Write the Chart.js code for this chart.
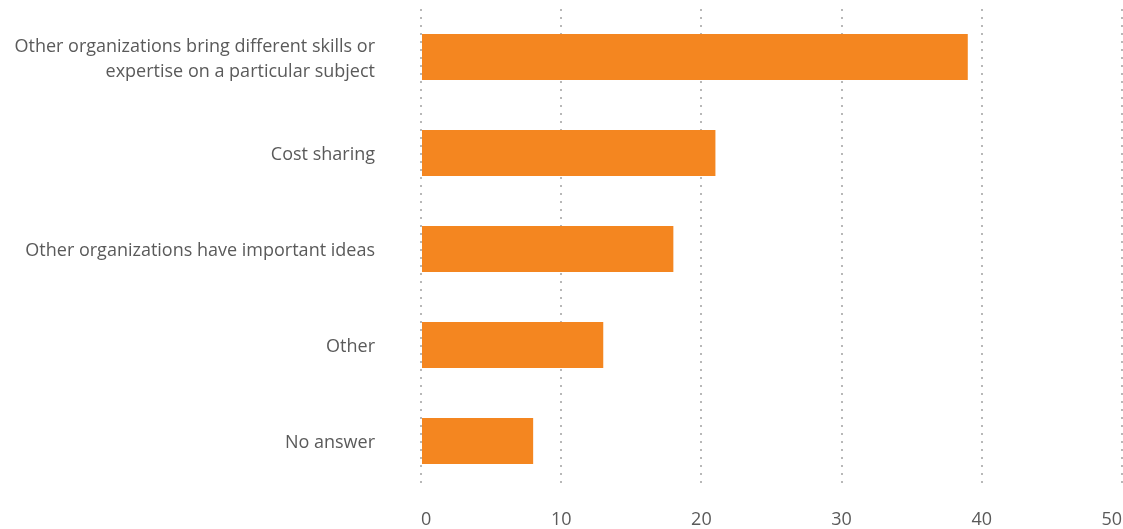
<!DOCTYPE html>
<html lang="en">
<head>
    <meta charset="UTF-8">
    <title>Reasons for collaborating</title>
    <script src="https://cdn.jsdelivr.net/npm/chart.js"></script>
    <style>
      html, body { margin: 0; padding: 0; background: #fff; }
      #chartBox { width: 1123px; height: 529px; }
    </style>
</head>
<body>
    <div id="chartBox">
        <canvas id="reasonsChart"></canvas>
    </div>

    <script>
        // data
        const categories = [
            ['Other organizations bring different skills or', 'expertise on a particular subject'],
            'Cost sharing',
            'Other organizations have important ideas',
            'Other',
            'No answer'
        ];
        const responses = [39, 21, 18, 13, 8];
        const xTicks = [0, 10, 20, 30, 40, 50];

        const textColor = '#5a5a5a';
        const labelFont = { family: 'Open Sans', size: 18, lineHeight: 1.39 };
        const tickFont = { family: 'Open Sans', size: 18, lineHeight: 1.2 };

        // drop the extra room chart.js keeps for half labels at the ends
        const noEdgePadding = scale => {
            scale.paddingTop = 0;
            scale.paddingBottom = 0;
            scale.paddingLeft = 0;
            scale.paddingRight = 0;
        };

        const ctx = document.getElementById('reasonsChart').getContext('2d');

        const reasonsChart = new Chart(ctx, {
        type: 'bar',
        data: {
            labels: categories,
            datasets: [{
            label: 'Responses',
            data: responses,
            backgroundColor: '#f48620',
            borderWidth: 0,
            categoryPercentage: 1,
            barPercentage: 0.48
            }]
        },
        options: {
            indexAxis: 'y',
            responsive: true,
            maintainAspectRatio: false,
            animation: false,
            layout: {
            padding: { top: 9, right: 1, left: 0, bottom: 0 }
            },
            plugins: {
            legend: { display: false },
            tooltip: { enabled: false }
            },
            scales: {
            x: {
                min: xTicks[0],
                max: xTicks[xTicks.length - 1],
                afterBuildTicks: scale => {
                scale.ticks = xTicks.map(v => ({ value: v }));
                },
                afterFit: scale => {
                scale.height = 40;
                noEdgePadding(scale);
                },
                grid: {
                color: '#b8b8b8',
                lineWidth: 2,
                drawTicks: false
                },
                border: { display: false, dash: [2, 6] },
                ticks: {
                color: textColor,
                font: tickFont,
                padding: 20,
                maxRotation: 0,
                align: 'inner'
                }
            },
            y: {
                afterFit: scale => {
                scale.width = 421;
                noEdgePadding(scale);
                },
                grid: { display: false, drawTicks: false },
                border: { display: false },
                ticks: {
                color: textColor,
                font: labelFont,
                padding: 46,
                labelOffset: 2
                }
            }
            }
        }
        });
    </script>
</body>
</html>
